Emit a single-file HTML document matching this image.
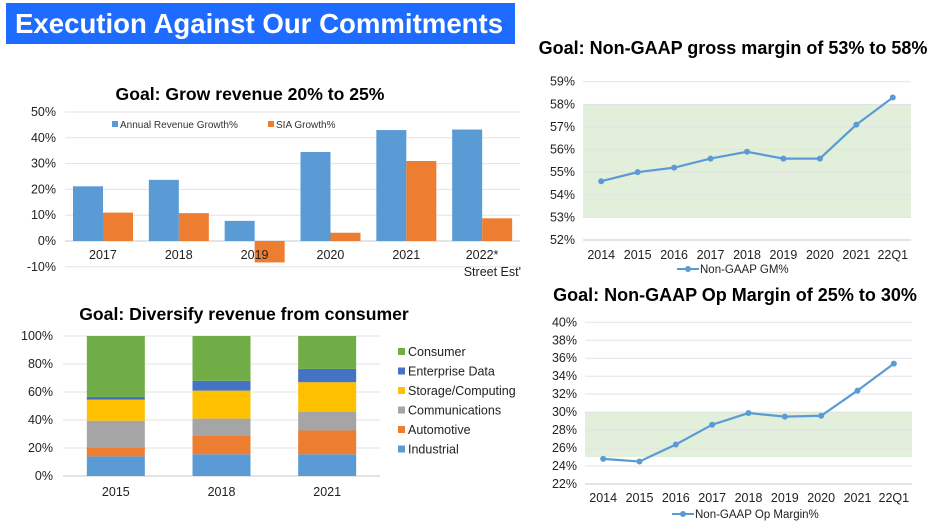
<!DOCTYPE html>
<html><head><meta charset="utf-8"><style>
body{margin:0;background:#fff;width:935px;height:521px;overflow:hidden;font-family:"Liberation Sans",Arial,sans-serif}
svg{position:absolute;left:0;top:0}
</style></head><body>
<svg id="s" width="935" height="521" viewBox="0 0 935 521" font-family="Liberation Sans, Arial, sans-serif">
<rect x="6" y="3" width="509" height="41" fill="#1e6bff"/>
<text x="15" y="33" font-size="27.6" font-weight="bold" fill="#fff">Execution Against Our Commitments</text>
<text x="250" y="100" font-size="17.6" font-weight="bold" text-anchor="middle">Goal: Grow revenue 20% to 25%</text>
<text x="244" y="320" font-size="17.6" font-weight="bold" text-anchor="middle">Goal: Diversify revenue from consumer</text>
<text x="733" y="54" font-size="18" font-weight="bold" text-anchor="middle">Goal: Non-GAAP gross margin of 53% to 58%</text>
<text x="735" y="301" font-size="18" font-weight="bold" text-anchor="middle">Goal: Non-GAAP Op Margin of 25% to 30%</text>
<g id="g"></g>
</svg>
<script>
const revCats=["2017","2018","2019","2020","2021","2022*"];
const revGrowth=[21.2,23.7,7.8,34.5,43,43.2];
const siaGrowth=[11,10.8,-8.3,3.2,31,8.8];
const revTicks=[-10,0,10,20,30,40,50];

const mixCats=["2015","2018","2021"];
const mixSeries=["Industrial","Automotive","Communications","Storage/Computing","Enterprise Data","Consumer"];
const industrial=[14,15.5,15.5];
const automotive=[6,13.5,17];
const communications=[19.5,12,13.5];
const storage=[15,20,21];
const enterprise=[2,7,9.5];
const consumer=[43.5,32,23.5];
const mixTicks=[0,20,40,60,80,100];

const lineCats=["2014","2015","2016","2017","2018","2019","2020","2021","22Q1"];
const gmValues=[54.6,55.0,55.2,55.6,55.9,55.6,55.6,57.1,58.3];
const gmTicks=[52,53,54,55,56,57,58,59];
const opValues=[24.8,24.5,26.4,28.6,29.9,29.5,29.6,32.4,35.4];
const opTicks=[22,24,26,28,30,32,34,36,38,40];

const NS="http://www.w3.org/2000/svg";
const G=document.getElementById('g');
function mk(t,a,txt){const e=document.createElementNS(NS,t);for(const k in a)e.setAttribute(k,a[k]);if(txt!=null)e.textContent=txt;G.appendChild(e);return e;}

// Revenue bar chart
{
 const x0=65,x1=520,y=v=>241-v*2.58,cw=(x1-x0)/revCats.length;
 revTicks.forEach(t=>{
  const l=mk('line',{x1:x0,x2:x1,y1:y(t),y2:y(t),stroke:t===0?'#c8c8c8':'#e3e3e3'});
  
  const tx=mk('text',{x:56,y:y(t)+4,'font-size':12.5,'text-anchor':'end',fill:'#222'},t+'%');
  
 });
 revCats.forEach((c,i)=>{
  const cx=x0+cw*i, bw=30;
  [[revGrowth[i],'#5b9bd5',cx+8],[siaGrowth[i],'#ed7d31',cx+8+bw]].forEach(([v,col,bx],j)=>{
   const r=mk('rect',{x:bx,y:Math.min(y(v),y(0)),width:bw,height:Math.abs(y(v)-y(0)),fill:col});
   
  });
  const tx=mk('text',{x:cx+cw/2,y:259,'font-size':12.5,'text-anchor':'middle',fill:'#222'},c);
  
 });
 const se=mk('text',{x:521,y:276,'font-size':12.5,'text-anchor':'end',fill:'#222'},"Street Est'");
 
 [['#5b9bd5',112,'Annual Revenue Growth%'],['#ed7d31',268,'SIA Growth%']].forEach(([c,x,t])=>{
  const r=mk('rect',{x:x,y:121,width:6,height:6,fill:c});
  
  const tx=mk('text',{x:x+8,y:128,'font-size':10,fill:'#333'},t);
  
 });
}

// Stacked mix chart
{
 const x0=63,x1=380,y=v=>476-v*1.4,cw=(x1-x0)/mixCats.length;
 const data=[industrial,automotive,communications,storage,enterprise,consumer];
 const cols=['#5b9bd5','#ed7d31','#a5a5a5','#ffc000','#4472c4','#70ad47'];
 mixTicks.forEach(t=>{
  const l=mk('line',{x1:x0,x2:x1,y1:y(t),y2:y(t),stroke:t===0?'#c8c8c8':'#e3e3e3'});
  
  const tx=mk('text',{x:53,y:y(t)+4,'font-size':12.5,'text-anchor':'end',fill:'#222'},t+'%');
  
 });
 mixCats.forEach((c,i)=>{
  const bx=x0+cw*i+(cw-58)/2;let acc=0;
  data.forEach((s,j)=>{
   const v=s[i];
   const r=mk('rect',{x:bx,y:y(acc+v),width:58,height:v*1.4,fill:cols[j]});
   
   
   acc+=v;
  });
  const tx=mk('text',{x:x0+cw*i+cw/2,y:496,'font-size':12.5,'text-anchor':'middle',fill:'#222'},c);
  
 });
 for(let j=5;j>=0;j--){
  const ly=353+(5-j)*19.5;
  const r=mk('rect',{x:398,y:ly-5,width:7,height:7,fill:cols[j]});
  
  const tx=mk('text',{x:408,y:ly+3,'font-size':12.5,fill:'#222'},mixSeries[j]);
  
 }
}

// Line charts
function lineChart(prefix,vals,ticks,band,x0,x1,ytop,ybot,xlY,legY,legText,legX){
 const lo=ticks[0],hi=ticks[ticks.length-1];
 const y=v=>ybot-(v-lo)/(hi-lo)*(ybot-ytop);
 const cw=(x1-x0)/lineCats.length;
 const b=mk('rect',{x:x0,y:y(band[1]),width:x1-x0,height:y(band[0])-y(band[1]),fill:'#e2efda'});
 
 ticks.forEach(t=>{
  const l=mk('line',{x1:x0,x2:x1,y1:y(t),y2:y(t),stroke:t===lo?'#c8c8c8':'#e3e3e3'});
  
  const tx=mk('text',{x:x0-8,y:y(t)+4,'font-size':12.5,'text-anchor':'end',fill:'#222'},t+'%');
  
 });
 const pts=vals.map((v,i)=>[x0+cw*i+cw/2,y(v)]);
 const p=mk('polyline',{points:pts.map(q=>q.join(',')).join(' '),fill:'none',stroke:'#5b9bd5','stroke-width':2.2});
 
 pts.forEach((q,i)=>{
  const c=mk('circle',{cx:q[0],cy:q[1],r:3,fill:'#5b9bd5'});
  
  const tx=mk('text',{x:q[0],y:xlY,'font-size':12.5,'text-anchor':'middle',fill:'#222'},lineCats[i]);
  
 });
 const ll=mk('line',{x1:legX,x2:legX+22,y1:legY-4,y2:legY-4,stroke:'#5b9bd5','stroke-width':2});
 
 const lc=mk('circle',{cx:legX+11,cy:legY-4,r:3,fill:'#5b9bd5'});
 
 const lt=mk('text',{x:legX+23,y:legY,'font-size':11.5,fill:'#222'},legText);
 
}
lineChart('gm',gmValues,gmTicks,[53,58],583,911,81.7,240,259,273,'Non-GAAP GM%',677);
lineChart('op',opValues,opTicks,[25,30],585,912,322.3,484,502,518,'Non-GAAP Op Margin%',672);
</script>
</body></html>
